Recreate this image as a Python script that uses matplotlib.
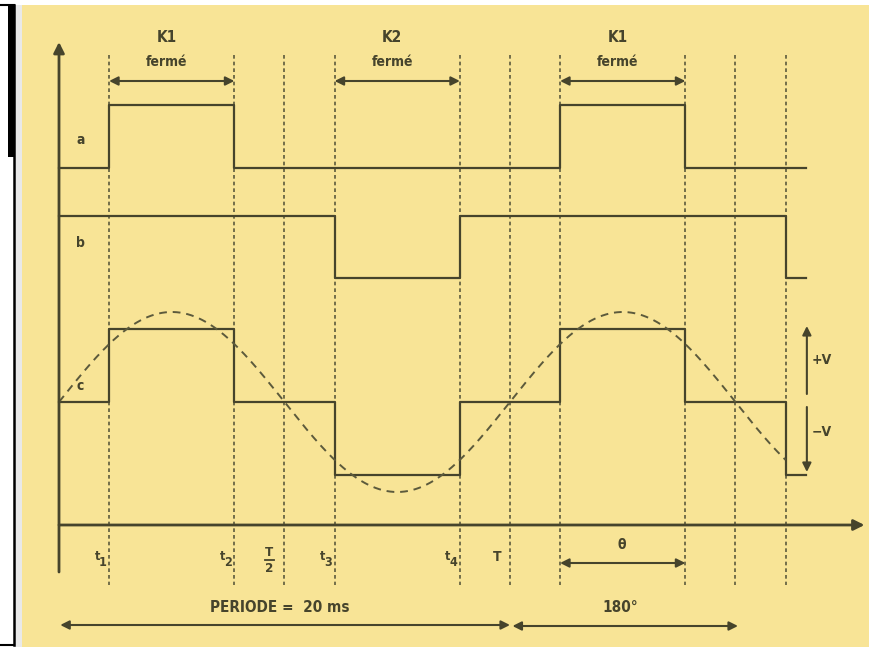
"""Timing diagram: switch commands a, b and stepped output c against the mains sine."""

import matplotlib.pyplot as plt
import numpy as np
from matplotlib.patches import Rectangle

# --- data (x in degrees, one period T = 360 deg = 20 ms) ---
edges = [40, 140, 180, 220, 320, 360, 400, 500, 540, 580]
t_a = [0, 40, 140, 400, 500, 596]
lvl_a = [0, 1, 0, 1, 0, 0]
t_b = [0, 220, 320, 580, 596]
lvl_b = [1, 0, 1, 0, 0]
t_c = [0, 40, 140, 220, 320, 400, 500, 580, 596]
lvl_c = [0, 1, 0, -1, 0, 1, 0, -1, -1]
sine_end = 580
closed = [('K1', 40, 140), ('K2', 220, 320), ('K1', 400, 500)]

# --- style ---
paper = '#f8e496'
ink = '#46442c'
dot_ink = '#5c5a3c'
plt.rcParams['font.family'] = ['Liberation Sans Narrow', 'DejaVu Sans']

fig = plt.figure(figsize=(8.69, 6.47), dpi=100, facecolor='white')

# scan border on the left
fig.patches.append(Rectangle((22 / 869, 0), 1, 1 - 5 / 647, transform=fig.transFigure,
                             facecolor=paper, edgecolor='none', zorder=-2))
fig.patches.append(Rectangle((14 / 869, 0), 8 / 869, 1 - 5 / 647, transform=fig.transFigure,
                             facecolor='#e9e9e9', edgecolor='none', zorder=-2))
fig.patches.append(Rectangle((8 / 869, 1 - 157 / 647), 6 / 869, 152 / 647,
                             transform=fig.transFigure, facecolor='black', edgecolor='none',
                             zorder=-1))
for xs, ys, w in [([13.5 / 869, 13.5 / 869], [2 / 647, 1 - 5 / 647], 1.8),
                  ([0, 14 / 869], [1 - 5 / 647, 1 - 5 / 647], 1.5),
                  ([0, 14 / 869], [2 / 647, 2 / 647], 1.5)]:
    fig.lines.append(plt.Line2D(xs, ys, transform=fig.transFigure, color='black', lw=w,
                                zorder=-1))

ax = fig.add_axes([0, 0, 1, 1])
ax.set_xlim(-47.1, 646.6)
ax.set_ylim(647, 0)
ax.axis('off')
ax.patch.set_alpha(0)

# track layout (vertical position of each trace)
a_base, a_h = 168, 63
b_base, b_h = 278, 62
c_zero, c_h = 402, 73
sine_amp = 90

# axes with arrows
ax.annotate('', xy=(0, 42), xytext=(0, 572),
            arrowprops=dict(arrowstyle='-|>', color=ink, lw=2.0, mutation_scale=16,
                            shrinkA=0, shrinkB=0))
ax.annotate('', xy=(643, 525), xytext=(0, 525),
            arrowprops=dict(arrowstyle='-|>', color=ink, lw=2.0, mutation_scale=16,
                            shrinkA=0, shrinkB=0))

# dotted time markers
for e in edges:
    ax.plot([e, e], [55, 585], color=dot_ink, lw=1.2, ls=(0, (2.2, 1.8)))

# traces
ax.step(t_a, a_base - np.array(lvl_a) * a_h, where='post', color=ink, lw=1.6)
ax.step(t_b, b_base - np.array(lvl_b) * b_h, where='post', color=ink, lw=1.6)
ax.step(t_c, c_zero - np.array(lvl_c) * c_h, where='post', color=ink, lw=1.6)
theta = np.linspace(0, sine_end, 600)
ax.plot(theta, c_zero - sine_amp * np.sin(np.radians(theta)), color=dot_ink, lw=1.4,
        ls=(0, (4, 3)))

txt = dict(color=ink, fontweight='bold', fontstretch='condensed', ha='center', va='center')

# switch closure arrows
for name, start, stop in closed:
    mid = (start + stop) / 2 - 4
    ax.text(mid, 38, name, fontsize=11, **txt)
    ax.text(mid, 62, 'fermé', fontsize=10, **txt)
    ax.annotate('', xy=(stop, 81), xytext=(start, 81),
                arrowprops=dict(arrowstyle='<|-|>', color=ink, lw=1.5, mutation_scale=13,
                                shrinkA=0, shrinkB=0))

# trace names
ax.text(17, 140, 'a', fontsize=10, **txt)
ax.text(17, 243, 'b', fontsize=10, **txt)
ax.text(17, 386, 'c', fontsize=10, **txt)

# +V / -V
ax.annotate('', xy=(597, 326), xytext=(597, 394),
            arrowprops=dict(arrowstyle='-|>', color=ink, lw=1.5, mutation_scale=13,
                            shrinkA=0, shrinkB=0))
ax.annotate('', xy=(597, 472), xytext=(597, 407),
            arrowprops=dict(arrowstyle='-|>', color=ink, lw=1.5, mutation_scale=13,
                            shrinkA=0, shrinkB=0))
ax.text(609, 360, '+V', fontsize=10, **txt)
ax.text(609, 432, '−V', fontsize=10, **txt)

# time labels under the axis
for i, e in enumerate([40, 140, 220, 320]):
    ax.text(e - 9.5, 556, 't', fontsize=9, **txt)
    ax.text(e - 5, 562, str(i + 1), fontsize=9, **txt)
ax.text(168, 553, 'T', fontsize=9.5, **txt)
ax.plot([164.5, 171.5], [560, 560], color=ink, lw=1.3)
ax.text(168, 569, '2', fontsize=9.5, **txt)
ax.text(350, 557, 'T', fontsize=10, **txt)

# period and angle arrows
ax.text(449, 545, 'θ', fontsize=10, **txt)
ax.annotate('', xy=(500, 563), xytext=(400, 563),
            arrowprops=dict(arrowstyle='<|-|>', color=ink, lw=1.5, mutation_scale=13,
                            shrinkA=0, shrinkB=0))
ax.text(176, 607, 'PERIODE =  20 ms', fontsize=11, **txt)
ax.annotate('', xy=(360, 625), xytext=(1, 625),
            arrowprops=dict(arrowstyle='<|-|>', color=ink, lw=1.5, mutation_scale=13,
                            shrinkA=0, shrinkB=0))
ax.text(448, 607, '180°', fontsize=11, **txt)
ax.annotate('', xy=(542, 626), xytext=(362, 626),
            arrowprops=dict(arrowstyle='<|-|>', color=ink, lw=1.5, mutation_scale=13,
                            shrinkA=0, shrinkB=0))

fig.savefig('out.png', dpi=100, facecolor='white')
